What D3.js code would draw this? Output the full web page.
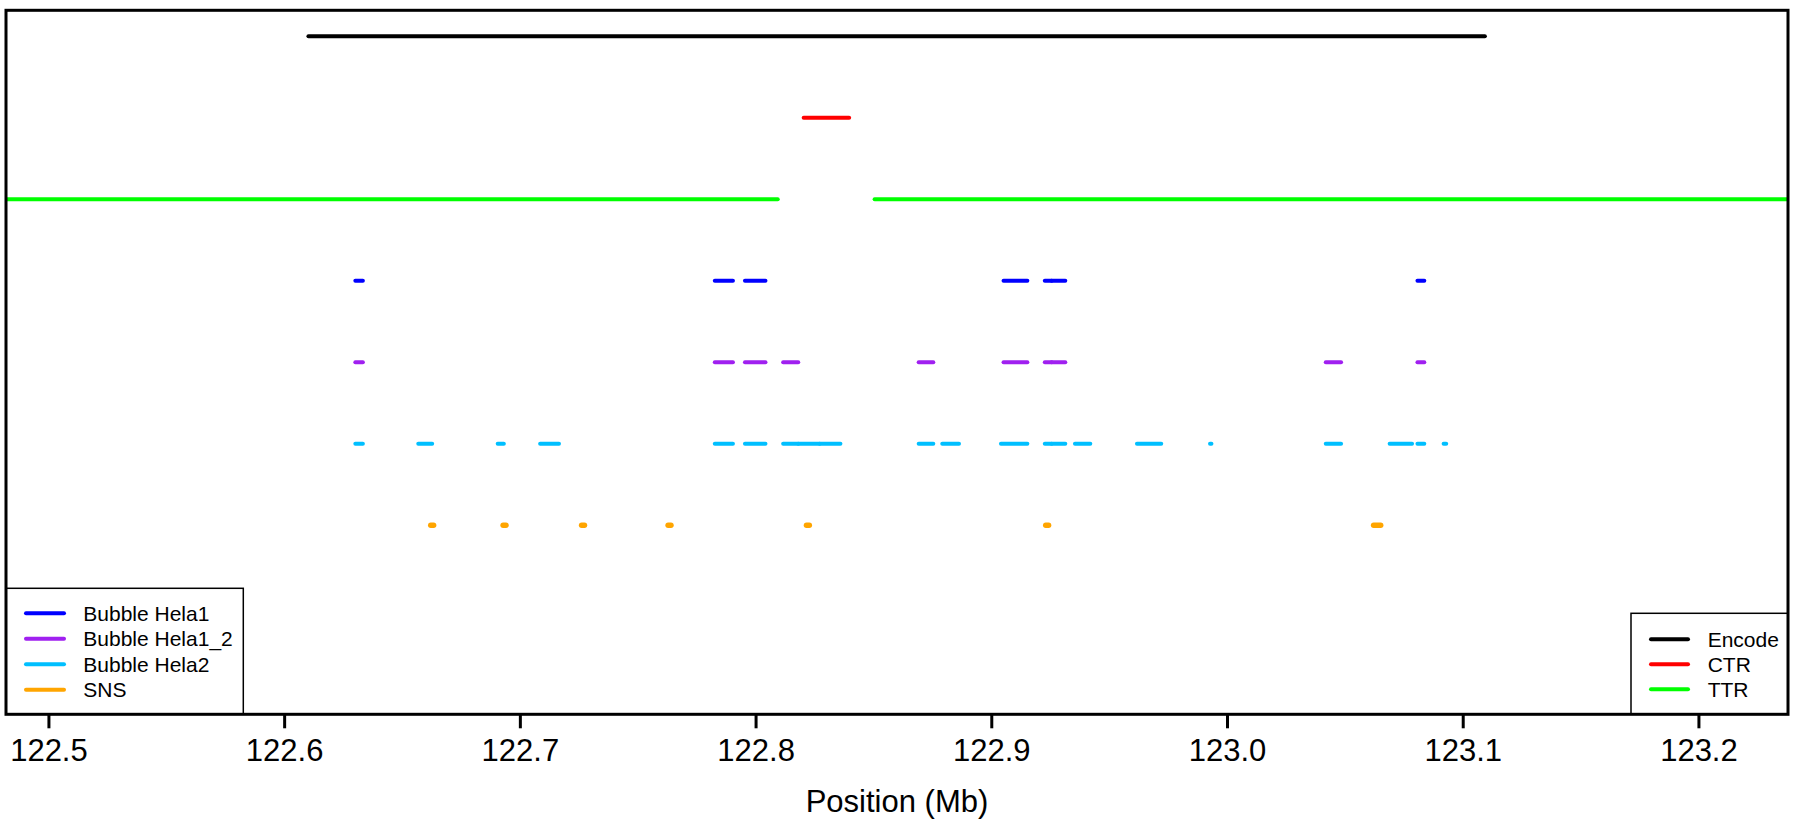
<!DOCTYPE html>
<html>
<head>
<meta charset="utf-8">
<script src="https://cdn.jsdelivr.net/npm/d3@7"></script>
<style>
  html, body { margin: 0; padding: 0; background: #fff; }
  svg { display: block; font-family: "Liberation Sans", Arial, sans-serif; }
</style>
</head>
<body>
<svg id="chart" width="1804" height="822"></svg>
<script>
// ---- data (positions in Mb) ----
const xLimits = [122.51, 123.21];
const yLimits = [-1, 7];
const tickValues = [122.5, 122.6, 122.7, 122.8, 122.9, 123.0, 123.1, 123.2];
const axisTitle = "Position (Mb)";

const trackNames = ["Encode", "CTR", "TTR", "Bubble Hela1", "Bubble Hela1_2", "Bubble Hela2", "SNS"];
const trackRows = [7, 6, 5, 4, 3, 2, 1];
const trackColors = ["#000000", "#FF0000", "#00FF00", "#0000FF", "#A020F0", "#00BFFF", "#FFA500"];

const encodeSegs = [[122.6103, 123.1094]];
const ctrSegs = [[122.8204, 122.8397]];
const ttrSegs = [[122.40, 122.8094], [122.8505, 123.30]];
const hela1Segs = [
  [122.6302, 122.6334], [122.7827, 122.7904], [122.7955, 122.8042],
  [122.9052, 122.9153], [122.9227, 122.9256], [122.9256, 122.9314],
  [123.0808, 123.0837]
];
const hela12Segs = [
  [122.6302, 122.6334], [122.7827, 122.7904], [122.7955, 122.8042],
  [122.8117, 122.8181], [122.8692, 122.8754], [122.9052, 122.9153],
  [122.9227, 122.9256], [122.9256, 122.9314], [123.0419, 123.0484],
  [123.0808, 123.0837]
];
const hela2Segs = [
  [122.6302, 122.6334], [122.6569, 122.6628], [122.6906, 122.6932],
  [122.7086, 122.7166], [122.7827, 122.7904], [122.7955, 122.8042],
  [122.8117, 122.8181], [122.8181, 122.8272], [122.8272, 122.8360],
  [122.8692, 122.8754], [122.8792, 122.8863], [122.9041, 122.9153],
  [122.9227, 122.9256], [122.9256, 122.9314], [122.9355, 122.9420],
  [122.9618, 122.9721], [122.9928, 122.9934], [123.0419, 123.0484],
  [123.0690, 123.0785], [123.0808, 123.0837], [123.0919, 123.0930]
];
const snsSegs = [
  [122.6622, 122.6634], [122.6929, 122.6941], [122.7262, 122.7274],
  [122.7629, 122.7641], [122.8216, 122.8228], [122.9231, 122.9243],
  [123.0622, 123.0652]
];
const trackSegs = [encodeSegs, ctrSegs, ttrSegs, hela1Segs, hela12Segs, hela2Segs, snsSegs];

const legendLeft = ["Bubble Hela1", "Bubble Hela1_2", "Bubble Hela2", "SNS"];
const legendLeftColors = ["#0000FF", "#A020F0", "#00BFFF", "#FFA500"];
const legendRight = ["Encode", "CTR", "TTR"];
const legendRightColors = ["#000000", "#FF0000", "#00FF00"];

// ---- layout ----
const plot = { left: 6, right: 1788, top: 10.3, bottom: 714.3 };
const svg = d3.select("#chart");

const ext = v => { const d = (v[1] - v[0]) * 0.04; return [v[0] - d, v[1] + d]; };
const x = d3.scaleLinear().domain(ext(xLimits)).range([plot.left, plot.right]);
const y = d3.scaleLinear().domain(ext(yLimits)).range([plot.bottom, plot.top]);

svg.append("defs").append("clipPath").attr("id", "clip")
  .append("rect")
  .attr("x", plot.left).attr("y", plot.top)
  .attr("width", plot.right - plot.left).attr("height", plot.bottom - plot.top);

const g = svg.append("g").attr("clip-path", "url(#clip)");

trackNames.forEach((name, i) => {
  const row = trackRows[i];
  const isDot = name === "SNS";
  g.append("g").selectAll("line")
    .data(trackSegs[i])
    .join("line")
    .attr("x1", d => x(d[0]))
    .attr("x2", d => x(d[1]))
    .attr("y1", y(row))
    .attr("y2", y(row))
    .attr("stroke", trackColors[i])
    .attr("stroke-width", isDot ? 5.5 : 4)
    .attr("stroke-linecap", "round");
});

// ---- x axis ----
const axis = d3.axisBottom(x)
  .tickValues(tickValues)
  .tickFormat(d3.format(".1f"))
  .tickSize(14)
  .tickSizeOuter(0)
  .tickPadding(11);

const ax = svg.append("g")
  .attr("transform", `translate(0,${plot.bottom})`)
  .call(axis);
ax.select(".domain").remove();
ax.selectAll(".tick line").attr("stroke", "#000").attr("stroke-width", 3);
ax.selectAll(".tick text")
  .attr("fill", "#000")
  .style("font-size", "31px")
  .style("font-family", "'Liberation Sans', Arial, sans-serif");

svg.append("text")
  .attr("x", (plot.left + plot.right) / 2)
  .attr("y", 812)
  .attr("text-anchor", "middle")
  .style("font-size", "31px")
  .attr("fill", "#000")
  .text(axisTitle);

// ---- legends ----
function drawLegend(names, colors, box, lineX, textX, rowY0, rowStep) {
  const lg = svg.append("g");
  lg.append("rect")
    .attr("x", box.x).attr("y", box.y)
    .attr("width", box.w).attr("height", box.h)
    .attr("fill", "#fff").attr("stroke", "#000").attr("stroke-width", 1.5);
  names.forEach((n, i) => {
    const yy = rowY0 + i * rowStep;
    lg.append("line")
      .attr("x1", lineX[0]).attr("x2", lineX[1])
      .attr("y1", yy).attr("y2", yy)
      .attr("stroke", colors[i]).attr("stroke-width", 4)
      .attr("stroke-linecap", "round");
    lg.append("text")
      .attr("x", textX).attr("y", yy + 7.6)
      .style("font-size", "21px")
      .attr("fill", "#000")
      .text(n);
  });
}
drawLegend(legendLeft, legendLeftColors,
  { x: plot.left, y: 588.3, w: 243.3 - plot.left, h: plot.bottom - 588.3 },
  [26, 64], 83.3, 613.3, 25.5);
drawLegend(legendRight, legendRightColors,
  { x: 1631, y: 613.3, w: plot.right - 1631, h: plot.bottom - 613.3 },
  [1651, 1688], 1707.7, 639.3, 25);

// ---- plot frame ----
svg.append("rect")
  .attr("x", plot.left).attr("y", plot.top)
  .attr("width", plot.right - plot.left).attr("height", plot.bottom - plot.top)
  .attr("fill", "none").attr("stroke", "#000").attr("stroke-width", 3);
</script>
</body>
</html>
